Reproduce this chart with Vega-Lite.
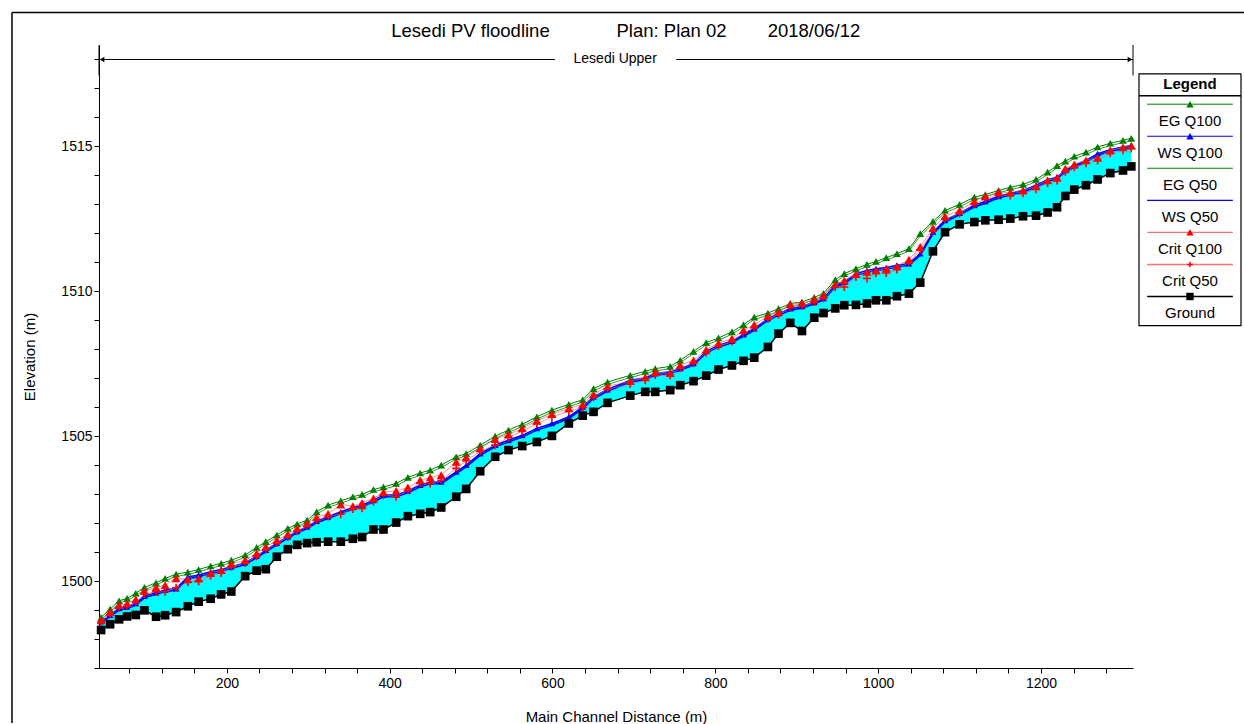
{
  "$schema": "https://vega.github.io/schema/vega-lite/v6.json",
  "background": "white",
  "padding": {"left": 11, "top": 11, "right": 0, "bottom": 0},
  "config": {
    "font": "Liberation Sans",
    "view": {"stroke": null},
    "axis": {"grid": false, "domainColor": "black", "tickColor": "black", "labelColor": "black", "titleColor": "black", "titleFontWeight": "normal", "labelFontSize": 14, "titleFontSize": 15, "tickSize": 5, "labelFlush": false, "labelOverlap": false, "tickCount": 100}
  },
  "resolve": {"scale": {"x": "independent", "y": "independent"}},
  "bounds": "flush",
  "spacing": 6,
  "datasets": {
    "profile": [
      {"s": 45.6, "ground": 1498.31, "ws100": 1498.60, "eg100": 1498.75, "crit100": 1498.66, "ws50": 1498.55, "eg50": 1498.68, "crit50": 1498.58},
      {"s": 56.6, "ground": 1498.51, "ws100": 1498.83, "eg100": 1499.03, "crit100": 1498.94, "ws50": 1498.77, "eg50": 1498.95, "crit50": 1498.85},
      {"s": 67.7, "ground": 1498.68, "ws100": 1499.06, "eg100": 1499.32, "crit100": 1499.17, "ws50": 1499.00, "eg50": 1499.24, "crit50": 1499.08},
      {"s": 77.5, "ground": 1498.78, "ws100": 1499.11, "eg100": 1499.40, "crit100": 1499.23, "ws50": 1499.05, "eg50": 1499.32, "crit50": 1499.13},
      {"s": 88.2, "ground": 1498.83, "ws100": 1499.23, "eg100": 1499.58, "crit100": 1499.37, "ws50": 1499.17, "eg50": 1499.50, "crit50": 1499.27},
      {"s": 98.8, "ground": 1498.99, "ws100": 1499.48, "eg100": 1499.78, "crit100": 1499.66, "ws50": 1499.42, "eg50": 1499.70, "crit50": 1499.56},
      {"s": 113.1, "ground": 1498.77, "ws100": 1499.60, "eg100": 1499.94, "crit100": 1499.78, "ws50": 1499.54, "eg50": 1499.86, "crit50": 1499.63},
      {"s": 124.2, "ground": 1498.82, "ws100": 1499.69, "eg100": 1500.09, "crit100": 1499.86, "ws50": 1499.63, "eg50": 1500.01, "crit50": 1499.63},
      {"s": 137.7, "ground": 1498.93, "ws100": 1499.74, "eg100": 1500.24, "crit100": 1500.09, "ws50": 1499.68, "eg50": 1500.16, "crit50": 1499.77},
      {"s": 152.1, "ground": 1499.13, "ws100": 1500.14, "eg100": 1500.31, "crit100": 1500.06, "ws50": 1500.08, "eg50": 1500.23, "crit50": 1499.96},
      {"s": 165.4, "ground": 1499.29, "ws100": 1500.21, "eg100": 1500.40, "crit100": 1500.09, "ws50": 1500.15, "eg50": 1500.32, "crit50": 1499.99},
      {"s": 180.1, "ground": 1499.39, "ws100": 1500.32, "eg100": 1500.52, "crit100": 1500.28, "ws50": 1500.26, "eg50": 1500.44, "crit50": 1500.18},
      {"s": 193.0, "ground": 1499.54, "ws100": 1500.40, "eg100": 1500.61, "crit100": 1500.38, "ws50": 1500.34, "eg50": 1500.53, "crit50": 1500.28},
      {"s": 205.5, "ground": 1499.64, "ws100": 1500.49, "eg100": 1500.72, "crit100": 1500.59, "ws50": 1500.43, "eg50": 1500.64, "crit50": 1500.49},
      {"s": 222.5, "ground": 1500.17, "ws100": 1500.63, "eg100": 1500.90, "crit100": 1500.72, "ws50": 1500.57, "eg50": 1500.82, "crit50": 1500.62},
      {"s": 236.6, "ground": 1500.36, "ws100": 1500.86, "eg100": 1501.16, "crit100": 1500.96, "ws50": 1500.80, "eg50": 1501.08, "crit50": 1500.86},
      {"s": 247.9, "ground": 1500.41, "ws100": 1501.07, "eg100": 1501.36, "crit100": 1501.18, "ws50": 1501.01, "eg50": 1501.28, "crit50": 1501.08},
      {"s": 261.4, "ground": 1500.84, "ws100": 1501.31, "eg100": 1501.59, "crit100": 1501.41, "ws50": 1501.25, "eg50": 1501.51, "crit50": 1501.31},
      {"s": 274.9, "ground": 1501.10, "ws100": 1501.53, "eg100": 1501.82, "crit100": 1501.62, "ws50": 1501.47, "eg50": 1501.74, "crit50": 1501.52},
      {"s": 286.4, "ground": 1501.25, "ws100": 1501.72, "eg100": 1501.97, "crit100": 1501.82, "ws50": 1501.66, "eg50": 1501.89, "crit50": 1501.72},
      {"s": 298.6, "ground": 1501.31, "ws100": 1501.87, "eg100": 1502.10, "crit100": 1501.99, "ws50": 1501.81, "eg50": 1502.02, "crit50": 1501.89},
      {"s": 310.3, "ground": 1501.34, "ws100": 1502.07, "eg100": 1502.39, "crit100": 1502.20, "ws50": 1502.01, "eg50": 1502.31, "crit50": 1502.10},
      {"s": 324.4, "ground": 1501.36, "ws100": 1502.22, "eg100": 1502.62, "crit100": 1502.33, "ws50": 1502.16, "eg50": 1502.54, "crit50": 1502.23},
      {"s": 340.0, "ground": 1501.36, "ws100": 1502.39, "eg100": 1502.77, "crit100": 1502.64, "ws50": 1502.33, "eg50": 1502.69, "crit50": 1502.31},
      {"s": 354.8, "ground": 1501.46, "ws100": 1502.54, "eg100": 1502.91, "crit100": 1502.59, "ws50": 1502.48, "eg50": 1502.83, "crit50": 1502.49},
      {"s": 366.2, "ground": 1501.52, "ws100": 1502.62, "eg100": 1502.99, "crit100": 1502.70, "ws50": 1502.56, "eg50": 1502.91, "crit50": 1502.51},
      {"s": 380.1, "ground": 1501.78, "ws100": 1502.79, "eg100": 1503.16, "crit100": 1502.85, "ws50": 1502.73, "eg50": 1503.08, "crit50": 1502.75},
      {"s": 392.4, "ground": 1501.78, "ws100": 1502.97, "eg100": 1503.25, "crit100": 1503.07, "ws50": 1502.91, "eg50": 1503.17, "crit50": 1502.97},
      {"s": 408.0, "ground": 1502.02, "ws100": 1502.97, "eg100": 1503.37, "crit100": 1503.11, "ws50": 1502.91, "eg50": 1503.29, "crit50": 1502.91},
      {"s": 422.4, "ground": 1502.24, "ws100": 1503.11, "eg100": 1503.58, "crit100": 1503.23, "ws50": 1503.05, "eg50": 1503.50, "crit50": 1503.13},
      {"s": 437.5, "ground": 1502.32, "ws100": 1503.31, "eg100": 1503.73, "crit100": 1503.48, "ws50": 1503.25, "eg50": 1503.65, "crit50": 1503.38},
      {"s": 449.8, "ground": 1502.38, "ws100": 1503.42, "eg100": 1503.83, "crit100": 1503.58, "ws50": 1503.36, "eg50": 1503.75, "crit50": 1503.37},
      {"s": 463.3, "ground": 1502.54, "ws100": 1503.42, "eg100": 1504.00, "crit100": 1503.66, "ws50": 1503.36, "eg50": 1503.92, "crit50": 1503.48},
      {"s": 481.7, "ground": 1502.91, "ws100": 1503.77, "eg100": 1504.29, "crit100": 1504.11, "ws50": 1503.71, "eg50": 1504.21, "crit50": 1503.89},
      {"s": 494.0, "ground": 1503.18, "ws100": 1504.00, "eg100": 1504.40, "crit100": 1504.27, "ws50": 1503.94, "eg50": 1504.32, "crit50": 1504.15},
      {"s": 511.2, "ground": 1503.79, "ws100": 1504.40, "eg100": 1504.69, "crit100": 1504.58, "ws50": 1504.34, "eg50": 1504.61, "crit50": 1504.48},
      {"s": 529.6, "ground": 1504.29, "ws100": 1504.69, "eg100": 1505.00, "crit100": 1504.90, "ws50": 1504.63, "eg50": 1504.92, "crit50": 1504.69},
      {"s": 545.9, "ground": 1504.52, "ws100": 1504.86, "eg100": 1505.21, "crit100": 1505.06, "ws50": 1504.80, "eg50": 1505.13, "crit50": 1504.96},
      {"s": 562.8, "ground": 1504.66, "ws100": 1505.03, "eg100": 1505.41, "crit100": 1505.27, "ws50": 1504.97, "eg50": 1505.33, "crit50": 1505.17},
      {"s": 580.8, "ground": 1504.80, "ws100": 1505.27, "eg100": 1505.67, "crit100": 1505.53, "ws50": 1505.21, "eg50": 1505.59, "crit50": 1505.43},
      {"s": 599.3, "ground": 1505.01, "ws100": 1505.44, "eg100": 1505.90, "crit100": 1505.76, "ws50": 1505.38, "eg50": 1505.82, "crit50": 1505.66},
      {"s": 620.1, "ground": 1505.44, "ws100": 1505.67, "eg100": 1506.10, "crit100": 1505.96, "ws50": 1505.61, "eg50": 1506.02, "crit50": 1505.86},
      {"s": 637.1, "ground": 1505.71, "ws100": 1506.01, "eg100": 1506.26, "crit100": 1506.10, "ws50": 1505.95, "eg50": 1506.18, "crit50": 1506.00},
      {"s": 650.4, "ground": 1505.84, "ws100": 1506.36, "eg100": 1506.64, "crit100": 1506.44, "ws50": 1506.30, "eg50": 1506.56, "crit50": 1506.34},
      {"s": 667.6, "ground": 1506.15, "ws100": 1506.61, "eg100": 1506.87, "crit100": 1506.72, "ws50": 1506.55, "eg50": 1506.79, "crit50": 1506.62},
      {"s": 695.5, "ground": 1506.40, "ws100": 1506.93, "eg100": 1507.10, "crit100": 1506.90, "ws50": 1506.87, "eg50": 1507.02, "crit50": 1506.80},
      {"s": 713.9, "ground": 1506.53, "ws100": 1507.01, "eg100": 1507.24, "crit100": 1507.03, "ws50": 1506.95, "eg50": 1507.16, "crit50": 1506.93},
      {"s": 726.2, "ground": 1506.53, "ws100": 1507.16, "eg100": 1507.33, "crit100": 1507.21, "ws50": 1507.10, "eg50": 1507.25, "crit50": 1507.11},
      {"s": 744.6, "ground": 1506.59, "ws100": 1507.22, "eg100": 1507.41, "crit100": 1507.18, "ws50": 1507.16, "eg50": 1507.33, "crit50": 1507.10},
      {"s": 756.9, "ground": 1506.76, "ws100": 1507.33, "eg100": 1507.62, "crit100": 1507.45, "ws50": 1507.27, "eg50": 1507.54, "crit50": 1507.35},
      {"s": 773.2, "ground": 1506.90, "ws100": 1507.51, "eg100": 1507.93, "crit100": 1507.62, "ws50": 1507.45, "eg50": 1507.85, "crit50": 1507.52},
      {"s": 788.8, "ground": 1507.09, "ws100": 1507.93, "eg100": 1508.23, "crit100": 1507.99, "ws50": 1507.87, "eg50": 1508.15, "crit50": 1507.89},
      {"s": 803.9, "ground": 1507.30, "ws100": 1508.14, "eg100": 1508.39, "crit100": 1508.21, "ws50": 1508.08, "eg50": 1508.31, "crit50": 1508.11},
      {"s": 820.4, "ground": 1507.44, "ws100": 1508.28, "eg100": 1508.60, "crit100": 1508.37, "ws50": 1508.22, "eg50": 1508.52, "crit50": 1508.27},
      {"s": 834.6, "ground": 1507.60, "ws100": 1508.51, "eg100": 1508.85, "crit100": 1508.66, "ws50": 1508.45, "eg50": 1508.77, "crit50": 1508.56},
      {"s": 847.8, "ground": 1507.71, "ws100": 1508.71, "eg100": 1509.11, "crit100": 1508.85, "ws50": 1508.65, "eg50": 1509.03, "crit50": 1508.75},
      {"s": 864.6, "ground": 1508.08, "ws100": 1509.06, "eg100": 1509.25, "crit100": 1509.14, "ws50": 1509.00, "eg50": 1509.17, "crit50": 1509.04},
      {"s": 877.6, "ground": 1508.54, "ws100": 1509.23, "eg100": 1509.40, "crit100": 1509.29, "ws50": 1509.17, "eg50": 1509.32, "crit50": 1509.19},
      {"s": 892.0, "ground": 1508.91, "ws100": 1509.40, "eg100": 1509.58, "crit100": 1509.55, "ws50": 1509.34, "eg50": 1509.50, "crit50": 1509.45},
      {"s": 906.4, "ground": 1508.63, "ws100": 1509.48, "eg100": 1509.63, "crit100": 1509.60, "ws50": 1509.42, "eg50": 1509.55, "crit50": 1509.50},
      {"s": 921.5, "ground": 1509.09, "ws100": 1509.62, "eg100": 1509.79, "crit100": 1509.72, "ws50": 1509.56, "eg50": 1509.71, "crit50": 1509.62},
      {"s": 932.9, "ground": 1509.25, "ws100": 1509.76, "eg100": 1509.93, "crit100": 1509.86, "ws50": 1509.70, "eg50": 1509.85, "crit50": 1509.76},
      {"s": 947.3, "ground": 1509.41, "ws100": 1510.21, "eg100": 1510.40, "crit100": 1510.24, "ws50": 1510.15, "eg50": 1510.32, "crit50": 1510.14},
      {"s": 958.4, "ground": 1509.52, "ws100": 1510.32, "eg100": 1510.61, "crit100": 1510.38, "ws50": 1510.26, "eg50": 1510.53, "crit50": 1510.15},
      {"s": 972.7, "ground": 1509.53, "ws100": 1510.61, "eg100": 1510.78, "crit100": 1510.59, "ws50": 1510.55, "eg50": 1510.70, "crit50": 1510.49},
      {"s": 986.2, "ground": 1509.58, "ws100": 1510.72, "eg100": 1510.93, "crit100": 1510.67, "ws50": 1510.66, "eg50": 1510.85, "crit50": 1510.44},
      {"s": 997.3, "ground": 1509.69, "ws100": 1510.78, "eg100": 1511.03, "crit100": 1510.72, "ws50": 1510.72, "eg50": 1510.95, "crit50": 1510.62},
      {"s": 1010.0, "ground": 1509.69, "ws100": 1510.82, "eg100": 1511.16, "crit100": 1510.78, "ws50": 1510.76, "eg50": 1511.08, "crit50": 1510.63},
      {"s": 1023.1, "ground": 1509.83, "ws100": 1510.90, "eg100": 1511.30, "crit100": 1510.86, "ws50": 1510.84, "eg50": 1511.22, "crit50": 1510.75},
      {"s": 1037.8, "ground": 1509.92, "ws100": 1510.96, "eg100": 1511.47, "crit100": 1511.09, "ws50": 1510.90, "eg50": 1511.39, "crit50": 1510.99},
      {"s": 1051.7, "ground": 1510.30, "ws100": 1511.30, "eg100": 1511.99, "crit100": 1511.53, "ws50": 1511.24, "eg50": 1511.91, "crit50": 1511.43},
      {"s": 1067.3, "ground": 1511.38, "ws100": 1512.04, "eg100": 1512.41, "crit100": 1512.18, "ws50": 1511.98, "eg50": 1512.33, "crit50": 1512.08},
      {"s": 1082.1, "ground": 1512.04, "ws100": 1512.45, "eg100": 1512.79, "crit100": 1512.59, "ws50": 1512.39, "eg50": 1512.71, "crit50": 1512.49},
      {"s": 1100.0, "ground": 1512.31, "ws100": 1512.70, "eg100": 1513.00, "crit100": 1512.79, "ws50": 1512.64, "eg50": 1512.92, "crit50": 1512.69},
      {"s": 1118.1, "ground": 1512.39, "ws100": 1512.97, "eg100": 1513.25, "crit100": 1513.11, "ws50": 1512.91, "eg50": 1513.17, "crit50": 1513.01},
      {"s": 1131.6, "ground": 1512.45, "ws100": 1513.10, "eg100": 1513.34, "crit100": 1513.28, "ws50": 1513.04, "eg50": 1513.26, "crit50": 1513.18},
      {"s": 1147.9, "ground": 1512.47, "ws100": 1513.28, "eg100": 1513.48, "crit100": 1513.42, "ws50": 1513.22, "eg50": 1513.40, "crit50": 1513.32},
      {"s": 1162.3, "ground": 1512.51, "ws100": 1513.38, "eg100": 1513.59, "crit100": 1513.41, "ws50": 1513.32, "eg50": 1513.51, "crit50": 1513.31},
      {"s": 1177.9, "ground": 1512.59, "ws100": 1513.48, "eg100": 1513.69, "crit100": 1513.48, "ws50": 1513.42, "eg50": 1513.61, "crit50": 1513.38},
      {"s": 1193.9, "ground": 1512.61, "ws100": 1513.66, "eg100": 1513.86, "crit100": 1513.62, "ws50": 1513.60, "eg50": 1513.78, "crit50": 1513.52},
      {"s": 1208.1, "ground": 1512.72, "ws100": 1513.85, "eg100": 1514.11, "crit100": 1513.83, "ws50": 1513.79, "eg50": 1514.03, "crit50": 1513.73},
      {"s": 1219.7, "ground": 1512.90, "ws100": 1513.94, "eg100": 1514.34, "crit100": 1513.92, "ws50": 1513.88, "eg50": 1514.26, "crit50": 1513.82},
      {"s": 1229.9, "ground": 1513.29, "ws100": 1514.17, "eg100": 1514.49, "crit100": 1514.23, "ws50": 1514.11, "eg50": 1514.41, "crit50": 1514.13},
      {"s": 1240.9, "ground": 1513.51, "ws100": 1514.34, "eg100": 1514.66, "crit100": 1514.38, "ws50": 1514.28, "eg50": 1514.58, "crit50": 1514.28},
      {"s": 1255.3, "ground": 1513.66, "ws100": 1514.52, "eg100": 1514.80, "crit100": 1514.52, "ws50": 1514.46, "eg50": 1514.72, "crit50": 1514.42},
      {"s": 1269.5, "ground": 1513.86, "ws100": 1514.75, "eg100": 1514.98, "crit100": 1514.61, "ws50": 1514.69, "eg50": 1514.90, "crit50": 1514.51},
      {"s": 1285.1, "ground": 1514.08, "ws100": 1514.89, "eg100": 1515.11, "crit100": 1514.86, "ws50": 1514.83, "eg50": 1515.03, "crit50": 1514.76},
      {"s": 1300.7, "ground": 1514.17, "ws100": 1514.98, "eg100": 1515.21, "crit100": 1514.97, "ws50": 1514.92, "eg50": 1515.13, "crit50": 1514.87},
      {"s": 1310.9, "ground": 1514.31, "ws100": 1515.03, "eg100": 1515.28, "crit100": 1515.03, "ws50": 1514.97, "eg50": 1515.20, "crit50": 1514.93}
    ],
    "legend": [
      {"name": "EG Q100", "rank": 1},
      {"name": "WS Q100", "rank": 2},
      {"name": "EG Q50", "rank": 3},
      {"name": "WS Q50", "rank": 4},
      {"name": "Crit Q100", "rank": 5},
      {"name": "Crit Q50", "rank": 6},
      {"name": "Ground", "rank": 7}
    ],
    "reach": [{"reach": "Lesedi Upper", "header": "Legend", "title": "Lesedi PV floodline\u00a0\u00a0\u00a0\u00a0\u00a0\u00a0\u00a0\u00a0\u00a0\u00a0\u00a0\u00a0 Plan: Plan 02\u00a0\u00a0\u00a0\u00a0\u00a0\u00a0\u00a0 2018/06/12"}]
  },
  "hconcat": [
    {
      "width": 1034,
      "height": 623,
      "view": {"stroke": null},
      "layer": [
        {
          "data": {"name": "profile"},
          "encoding": {
            "x": {"field": "s", "type": "quantitative", "title": "Main Channel Distance (m)",
              "scale": {"domain": [43, 1313], "nice": false, "zero": false},
              "axis": {"values": [80,120,160,200,240,280,320,360,400,440,480,520,560,600,640,680,720,760,800,840,880,920,960,1000,1040,1080,1120,1160,1200,1240,1280],
                "labelExpr": "datum.value % 200 === 0 ? datum.label : ''", "format": "d", "labelPadding": 3, "titlePadding": 19, "labelOverlap": false, "tickCount": 100}}
          },
          "layer": [
            {"mark": {"type": "area", "color": "#00ffff", "opacity": 1},
             "encoding": {"y": {"field": "ground", "type": "quantitative", "title": "Elevation (m)",
                "scale": {"domain": [1497, 1518.5], "nice": false, "zero": false},
                "axis": {"values": [1497,1498,1499,1500,1501,1502,1503,1504,1505,1506,1507,1508,1509,1510,1511,1512,1513,1514,1515,1516,1517,1518],
                  "labelExpr": "datum.value % 5 === 0 ? datum.label : ''", "format": "d", "labelPadding": 2, "titlePadding": 23, "labelOverlap": false, "labelBound": false, "tickCount": 100}},
              "y2": {"field": "ws100"}}},
            {"mark": {"type": "line", "color": "#008000", "strokeWidth": 0.8},
             "encoding": {"y": {"field": "eg50", "type": "quantitative", "title": "Elevation (m)"}}},
            {"mark": {"type": "line", "color": "#008000", "strokeWidth": 1},
             "encoding": {"y": {"field": "eg100", "type": "quantitative", "title": "Elevation (m)"}}},
            {"mark": {"type": "line", "color": "#0000ff", "strokeWidth": 1.5},
             "encoding": {"y": {"field": "ws50", "type": "quantitative", "title": "Elevation (m)"}}},
            {"mark": {"type": "line", "color": "#0000ff", "strokeWidth": 1.5},
             "encoding": {"y": {"field": "ws100", "type": "quantitative", "title": "Elevation (m)"}}},
            {"mark": {"type": "line", "color": "#ff5050", "strokeWidth": 0.8, "opacity": 0.8},
             "encoding": {"y": {"field": "crit50", "type": "quantitative", "title": "Elevation (m)"}}},
            {"mark": {"type": "line", "color": "#ff5050", "strokeWidth": 0.8, "opacity": 0.8},
             "encoding": {"y": {"field": "crit100", "type": "quantitative", "title": "Elevation (m)"}}},
            {"mark": {"type": "line", "color": "black", "strokeWidth": 1.5},
             "encoding": {"y": {"field": "ground", "type": "quantitative", "title": "Elevation (m)"}}},
            {"mark": {"type": "point", "shape": "triangle-up", "filled": true, "color": "#008000", "size": 60, "opacity": 1},
             "encoding": {"y": {"field": "eg100", "type": "quantitative", "title": "Elevation (m)"}}},
            {"mark": {"type": "point", "shape": "triangle-up", "filled": true, "color": "#0000ff", "size": 45, "opacity": 1},
             "encoding": {"y": {"field": "ws100", "type": "quantitative", "title": "Elevation (m)"}}},
            {"mark": {"type": "point", "shape": "triangle-up", "filled": true, "color": "#ff0000", "size": 80, "opacity": 1},
             "encoding": {"y": {"field": "crit100", "type": "quantitative", "title": "Elevation (m)"}}},
            {"mark": {"type": "point", "shape": "M-1,0H1M0,-1V1", "filled": false, "color": "#ff0000", "strokeWidth": 1.6, "size": 64, "opacity": 1},
             "encoding": {"y": {"field": "crit50", "type": "quantitative", "title": "Elevation (m)"}}},
            {"mark": {"type": "square", "color": "black", "size": 75, "opacity": 1},
             "encoding": {"y": {"field": "ground", "type": "quantitative", "title": "Elevation (m)"}}}
          ]
        },
        {"data": {"name": "reach"}, "mark": {"type": "rule", "color": "black", "strokeWidth": 1.5},
         "encoding": {"x": {"datum": -63.9}, "x2": {"datum": 1450}, "y": {"datum": 1519.62}}},
        {"data": {"name": "reach"}, "mark": {"type": "rule", "color": "black", "strokeWidth": 1.5},
         "encoding": {"x": {"datum": -63.9}, "y": {"datum": 1519.62}, "y2": {"datum": 1495.1}}},
        {"data": {"name": "reach"}, "mark": {"type": "text", "fontSize": 18.5, "color": "black", "baseline": "middle", "align": "center"},
         "encoding": {"x": {"datum": 690}, "y": {"datum": 1519.0}, "text": {"field": "title"}}},
        {"data": {"name": "reach"}, "mark": {"type": "rule", "color": "black", "strokeWidth": 1.2},
         "encoding": {"x": {"datum": 43}, "x2": {"datum": 603}, "y": {"datum": 1518}}},
        {"data": {"name": "reach"}, "mark": {"type": "rule", "color": "black", "strokeWidth": 1.2},
         "encoding": {"x": {"datum": 752}, "x2": {"datum": 1313}, "y": {"datum": 1518}}},
        {"data": {"name": "reach"}, "mark": {"type": "rule", "color": "black", "strokeWidth": 1},
         "encoding": {"x": {"datum": 43}, "y": {"datum": 1518.5}, "y2": {"datum": 1517.45}}},
        {"data": {"name": "reach"}, "mark": {"type": "rule", "color": "black", "strokeWidth": 1},
         "encoding": {"x": {"datum": 1313}, "y": {"datum": 1518.5}, "y2": {"datum": 1517.45}}},
        {"data": {"name": "reach"}, "mark": {"type": "point", "shape": "triangle-left", "filled": true, "color": "black", "size": 30, "opacity": 1, "xOffset": 3},
         "encoding": {"x": {"datum": 43}, "y": {"datum": 1518}}},
        {"data": {"name": "reach"}, "mark": {"type": "point", "shape": "triangle-right", "filled": true, "color": "black", "size": 30, "opacity": 1, "xOffset": -3},
         "encoding": {"x": {"datum": 1313}, "y": {"datum": 1518}}},
        {"data": {"name": "reach"}, "mark": {"type": "text", "fontSize": 14, "color": "black", "baseline": "middle", "align": "center"},
         "encoding": {"x": {"datum": 677}, "y": {"datum": 1518}, "text": {"field": "reach"}}}
      ]
    },
    {
      "width": 102,
      "height": 283,
      "view": {"stroke": null},
      "data": {"name": "legend"},
      "layer": [
        {"data": {"name": "reach"}, "mark": {"type": "rect", "fill": "white", "stroke": "black", "strokeWidth": 1.2},
         "encoding": {
           "x": {"datum": 0, "type": "quantitative", "scale": {"domain": [0, 1], "nice": false, "zero": false}, "axis": null},
           "x2": {"datum": 1},
           "y": {"datum": -0.52, "type": "quantitative", "scale": {"domain": [-1.424, 7.406], "reverse": true, "nice": false, "zero": false}, "axis": null},
           "y2": {"datum": 7.33}}},
        {"data": {"name": "reach"}, "mark": {"type": "text", "fontWeight": "bold", "fontSize": 15, "baseline": "middle", "align": "center", "color": "black"},
         "encoding": {"x": {"datum": 0.5, "type": "quantitative"}, "y": {"datum": -0.2, "type": "quantitative"}, "text": {"field": "header"}}},
        {"data": {"name": "reach"}, "mark": {"type": "rule", "color": "black", "strokeWidth": 1.5},
         "encoding": {"x": {"datum": 0, "type": "quantitative"}, "x2": {"datum": 1}, "y": {"datum": 0.16, "type": "quantitative"}}},
        {"mark": {"type": "rule", "yOffset": -18.5},
         "encoding": {
           "x": {"datum": 0.08, "type": "quantitative"}, "x2": {"datum": 0.92},
           "y": {"field": "rank", "type": "quantitative"},
           "stroke": {"field": "name", "type": "nominal", "legend": null,
             "scale": {"domain": ["EG Q100", "WS Q100", "EG Q50", "WS Q50", "Crit Q100", "Crit Q50", "Ground"],
               "range": ["#008000", "#0000ff", "#008000", "#0000ff", "#ff7070", "#ff7070", "#000000"]}},
           "size": {"field": "name", "type": "nominal", "legend": null,
             "scale": {"domain": ["EG Q100", "WS Q100", "EG Q50", "WS Q50", "Crit Q100", "Crit Q50", "Ground"],
               "range": [1, 1.5, 1, 1.5, 1, 1, 1.5]}}}},
        {"transform": [{"filter": {"field": "name", "oneOf": ["EG Q100", "WS Q100", "Crit Q100", "Ground"]}}],
         "mark": {"type": "point", "filled": true, "opacity": 1, "yOffset": -18.5, "size": 55},
         "encoding": {
           "x": {"datum": 0.5, "type": "quantitative"},
           "y": {"field": "rank", "type": "quantitative"},
           "shape": {"field": "name", "type": "nominal", "legend": null,
             "scale": {"domain": ["EG Q100", "WS Q100", "Crit Q100", "Ground"], "range": ["triangle-up", "triangle-up", "triangle-up", "square"]}},
           "color": {"field": "name", "type": "nominal", "legend": null,
             "scale": {"domain": ["EG Q100", "WS Q100", "Crit Q100", "Ground"], "range": ["#008000", "#0000ff", "#ff0000", "#000000"]}}}},
        {"transform": [{"filter": {"field": "name", "equal": "Crit Q50"}}],
         "mark": {"type": "point", "shape": "M-1,0H1M0,-1V1", "filled": false, "color": "#ff0000", "strokeWidth": 1.5, "opacity": 1, "yOffset": -18.5, "size": 30},
         "encoding": {"x": {"datum": 0.5, "type": "quantitative"}, "y": {"field": "rank", "type": "quantitative"}}},
        {"mark": {"type": "text", "fontSize": 15, "baseline": "middle", "align": "center", "color": "black", "dy": -2},
         "encoding": {"x": {"datum": 0.5, "type": "quantitative"}, "y": {"field": "rank", "type": "quantitative"}, "text": {"field": "name"}}}
      ]
    }
  ]
}
